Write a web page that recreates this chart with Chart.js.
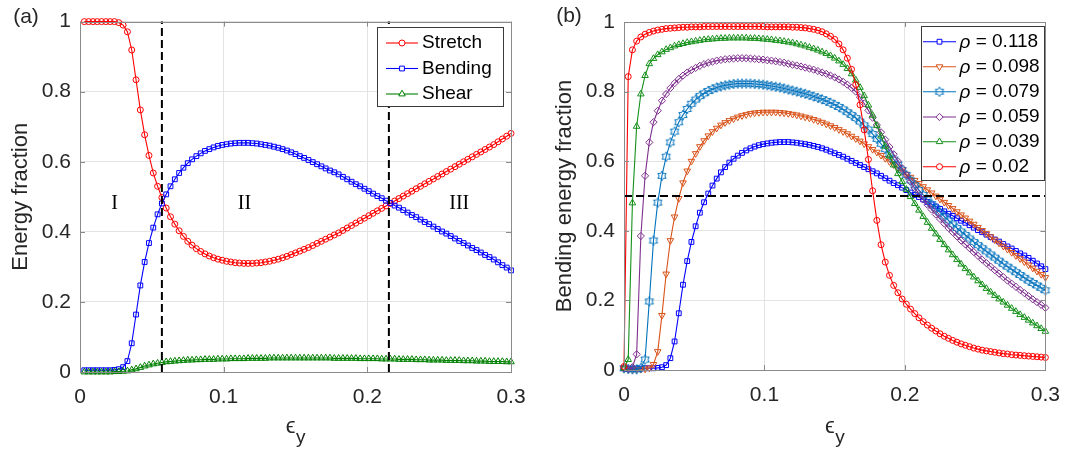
<!DOCTYPE html>
<html><head><meta charset="utf-8">
<script src="https://cdn.jsdelivr.net/npm/chart.js@4.4.1/dist/chart.umd.min.js"></script>
<style>
html,body{margin:0;padding:0;background:#fff;}
#wrap{position:relative;width:1073px;height:449px;overflow:hidden;background:#fff;}
canvas{position:absolute;top:0;}
#ca{left:0;}
#cb{left:540px;}
</style></head><body>
<div id="wrap"><canvas id="ca" width="540" height="449"></canvas><canvas id="cb" width="533" height="449"></canvas></div>
<script>
// ---------- data ----------
const xTickValues = [0, 0.1, 0.2, 0.3];
const xTickLabels = ['0', '0.1', '0.2', '0.3'];
const yTickValues = [0, 0.2, 0.4, 0.6, 0.8, 1];
const yTickLabels = ['0', '0.2', '0.4', '0.6', '0.8', '1'];

// strain sample grid (step 0.003)
const strainA = Array.from({length: 100}, (_, k) => Math.round((k + 1) * 3) / 1000);
const strainB = Array.from({length: 101}, (_, k) => Math.round(k * 3) / 1000);

// panel (a)
const seriesLabelsA = ['Stretch', 'Bending', 'Shear'];
const stretchA = [1.000,1.000,1.000,1.000,1.000,1.000,1.000,1.000,0.997,0.990,
0.971,0.919,0.834,0.748,0.677,0.618,0.568,0.530,0.498,0.468,
0.443,0.422,0.403,0.387,0.373,0.362,0.352,0.344,0.337,0.331,
0.326,0.322,0.319,0.316,0.314,0.312,0.311,0.310,0.310,0.310,
0.311,0.312,0.314,0.316,0.319,0.322,0.326,0.330,0.335,0.340,
0.345,0.350,0.355,0.361,0.367,0.373,0.379,0.385,0.391,0.397,
0.404,0.411,0.418,0.425,0.432,0.439,0.446,0.453,0.460,0.467,
0.474,0.481,0.488,0.495,0.502,0.509,0.516,0.523,0.530,0.537,
0.544,0.551,0.558,0.565,0.572,0.579,0.586,0.593,0.600,0.607,
0.614,0.621,0.628,0.635,0.642,0.649,0.657,0.665,0.673,0.681];
const bendingA = [0.005,0.005,0.005,0.005,0.005,0.005,0.005,0.006,0.008,0.014,
0.031,0.082,0.164,0.247,0.314,0.368,0.412,0.450,0.481,0.507,
0.530,0.550,0.568,0.583,0.596,0.607,0.616,0.624,0.631,0.636,
0.641,0.645,0.648,0.650,0.652,0.653,0.654,0.654,0.654,0.653,
0.652,0.650,0.648,0.646,0.643,0.640,0.636,0.632,0.627,0.622,
0.616,0.611,0.605,0.599,0.593,0.587,0.581,0.575,0.570,0.564,
0.557,0.550,0.543,0.536,0.530,0.523,0.516,0.509,0.502,0.496,
0.489,0.482,0.475,0.469,0.462,0.455,0.448,0.442,0.435,0.428,
0.422,0.415,0.408,0.401,0.395,0.388,0.381,0.374,0.368,0.361,
0.354,0.348,0.341,0.334,0.328,0.321,0.313,0.305,0.298,0.290];
const shearA = [0.000,0.000,0.000,0.000,0.000,0.000,0.000,0.001,0.001,0.002,
0.003,0.006,0.009,0.013,0.017,0.020,0.023,0.025,0.027,0.029,
0.030,0.031,0.032,0.033,0.034,0.034,0.035,0.035,0.036,0.036,
0.036,0.037,0.037,0.037,0.038,0.038,0.038,0.038,0.039,0.039,
0.039,0.039,0.039,0.040,0.040,0.040,0.040,0.040,0.040,0.040,
0.040,0.040,0.040,0.040,0.040,0.040,0.040,0.040,0.039,0.039,
0.039,0.039,0.039,0.039,0.038,0.038,0.038,0.038,0.038,0.037,
0.037,0.037,0.037,0.036,0.036,0.036,0.036,0.035,0.035,0.035,
0.034,0.034,0.034,0.034,0.033,0.033,0.033,0.033,0.032,0.032,
0.032,0.031,0.031,0.031,0.030,0.030,0.030,0.030,0.029,0.029];
const regionBounds = [0.057, 0.215];
const regionLabels = ['I', 'II', 'III'];
const regionLabelX = [0.024, 0.1145, 0.264];
const regionLabelY = 0.48;

// panel (b)
const rhoLabels = ['0.118', '0.098', '0.079', '0.059', '0.039', '0.02'];
const rho118 = [0.005,
0.004,0.004,0.004,0.004,0.005,0.005,0.005,0.006,0.008,0.014,
0.034,0.082,0.163,0.245,0.313,0.368,0.413,0.452,0.482,0.507,
0.530,0.550,0.568,0.583,0.596,0.607,0.616,0.624,0.631,0.637,
0.642,0.646,0.649,0.651,0.653,0.654,0.655,0.655,0.655,0.654,
0.653,0.651,0.649,0.647,0.644,0.641,0.637,0.633,0.628,0.623,
0.618,0.613,0.607,0.601,0.595,0.589,0.583,0.577,0.571,0.565,
0.558,0.551,0.544,0.537,0.531,0.524,0.517,0.510,0.503,0.497,
0.490,0.483,0.476,0.470,0.463,0.456,0.449,0.443,0.436,0.429,
0.423,0.416,0.409,0.402,0.396,0.389,0.382,0.375,0.369,0.362,
0.355,0.349,0.342,0.335,0.329,0.322,0.314,0.306,0.298,0.290];
const rho098 = [0.004,
0.002,0.001,0.001,0.002,0.003,0.006,0.016,0.053,0.157,0.276,
0.372,0.440,0.493,0.538,0.572,0.600,0.622,0.642,0.659,0.673,
0.685,0.695,0.704,0.711,0.717,0.722,0.727,0.731,0.734,0.737,
0.739,0.740,0.741,0.741,0.741,0.741,0.740,0.739,0.737,0.735,
0.733,0.730,0.727,0.724,0.720,0.716,0.712,0.707,0.702,0.697,
0.691,0.685,0.679,0.672,0.665,0.658,0.650,0.642,0.634,0.626,
0.617,0.608,0.599,0.590,0.581,0.572,0.563,0.554,0.545,0.536,
0.527,0.518,0.509,0.500,0.491,0.482,0.473,0.464,0.455,0.446,
0.437,0.428,0.419,0.410,0.401,0.392,0.383,0.374,0.365,0.356,
0.347,0.338,0.329,0.320,0.311,0.302,0.293,0.284,0.275,0.266];
const rho079 = [0.005,
0.003,0.002,0.002,0.006,0.030,0.197,0.372,0.481,0.558,0.613,
0.654,0.685,0.712,0.733,0.750,0.765,0.777,0.787,0.795,0.802,
0.807,0.812,0.815,0.818,0.820,0.822,0.823,0.823,0.823,0.823,
0.822,0.821,0.820,0.818,0.816,0.814,0.812,0.809,0.806,0.803,
0.800,0.797,0.794,0.790,0.786,0.782,0.778,0.773,0.768,0.762,
0.756,0.749,0.741,0.733,0.724,0.714,0.703,0.691,0.678,0.664,
0.650,0.635,0.620,0.605,0.590,0.575,0.560,0.545,0.531,0.517,
0.503,0.490,0.477,0.465,0.453,0.441,0.430,0.419,0.408,0.398,
0.388,0.378,0.368,0.359,0.350,0.341,0.332,0.323,0.314,0.305,
0.297,0.289,0.281,0.273,0.265,0.257,0.250,0.243,0.236,0.229];
const rho059 = [0.005,
0.003,0.008,0.045,0.385,0.558,0.654,0.712,0.745,0.774,0.793,
0.810,0.824,0.836,0.846,0.855,0.862,0.868,0.874,0.879,0.883,
0.886,0.889,0.891,0.893,0.894,0.895,0.896,0.896,0.896,0.895,
0.894,0.893,0.892,0.890,0.889,0.887,0.885,0.883,0.880,0.877,
0.875,0.872,0.869,0.866,0.863,0.859,0.855,0.851,0.846,0.841,
0.835,0.828,0.820,0.811,0.800,0.784,0.766,0.746,0.725,0.704,
0.683,0.662,0.641,0.620,0.600,0.580,0.560,0.541,0.523,0.506,
0.490,0.475,0.461,0.447,0.434,0.421,0.408,0.396,0.384,0.372,
0.361,0.350,0.339,0.328,0.317,0.307,0.297,0.287,0.277,0.267,
0.257,0.248,0.239,0.230,0.221,0.212,0.203,0.195,0.187,0.179];
const rho039 = [0.005,
0.030,0.480,0.700,0.793,0.846,0.880,0.895,0.906,0.914,0.921,
0.926,0.931,0.935,0.938,0.941,0.943,0.945,0.947,0.949,0.950,
0.951,0.952,0.953,0.953,0.954,0.954,0.954,0.954,0.954,0.953,
0.953,0.952,0.951,0.950,0.949,0.947,0.946,0.944,0.942,0.940,
0.937,0.934,0.931,0.927,0.923,0.919,0.914,0.909,0.903,0.896,
0.888,0.878,0.866,0.851,0.833,0.812,0.788,0.761,0.732,0.702,
0.672,0.643,0.615,0.589,0.564,0.541,0.519,0.498,0.478,0.459,
0.441,0.424,0.407,0.391,0.375,0.360,0.345,0.331,0.317,0.304,
0.291,0.279,0.267,0.256,0.245,0.234,0.224,0.214,0.204,0.195,
0.186,0.177,0.168,0.159,0.151,0.143,0.135,0.127,0.119,0.111];
const rho02 = [0.010,
0.843,0.920,0.945,0.957,0.965,0.970,0.974,0.977,0.979,0.981,
0.982,0.983,0.984,0.985,0.985,0.986,0.986,0.986,0.987,0.987,
0.987,0.987,0.987,0.987,0.987,0.987,0.987,0.987,0.987,0.987,
0.987,0.987,0.987,0.986,0.986,0.986,0.986,0.986,0.986,0.985,
0.985,0.984,0.983,0.981,0.979,0.976,0.972,0.966,0.959,0.950,
0.937,0.920,0.896,0.864,0.820,0.762,0.690,0.605,0.515,0.430,
0.360,0.310,0.272,0.243,0.222,0.204,0.189,0.175,0.162,0.150,
0.139,0.129,0.120,0.112,0.104,0.097,0.091,0.085,0.080,0.075,
0.071,0.067,0.063,0.060,0.057,0.055,0.053,0.051,0.049,0.047,
0.046,0.044,0.043,0.042,0.041,0.040,0.039,0.038,0.037,0.036];
const bendingThreshold = 0.5;

// ---------- style ----------
const SANS = '"Liberation Sans", Arial, Helvetica, sans-serif';
const SERIF = '"Liberation Serif", "Times New Roman", serif';
const GRID = '#e3e3e3';
const AXIS = '#8a8a8a';
const TXT = '#262626';

function hexagram(color) {
  const c = document.createElement('canvas');
  c.width = 12; c.height = 12;
  const g = c.getContext('2d');
  g.strokeStyle = color; g.lineWidth = 1;
  const R = 4.8, r = R / Math.sqrt(3);
  g.beginPath();
  for (let k = 0; k < 12; k++) {
    const a = -Math.PI / 2 + k * Math.PI / 6;
    const rr = k % 2 === 0 ? R : r;
    const px = 6 + rr * Math.cos(a), py = 6 + rr * Math.sin(a);
    k === 0 ? g.moveTo(px, py) : g.lineTo(px, py);
  }
  g.closePath(); g.stroke();
  return c;
}

function series(xs, ys, color, style, radius, rotation, order) {
  return {
    data: xs.map((x, k) => ({x: x, y: ys[k]})),
    showLine: true, tension: 0, borderColor: color, borderWidth: 1.1,
    pointStyle: style, pointRadius: radius, pointRotation: rotation || 0,
    pointBorderColor: color, pointBackgroundColor: 'rgba(0,0,0,0)', pointBorderWidth: 1,
    clip: false, order: order
  };
}
function dashed(points, order) {
  return {data: points, showLine: true, borderColor: '#000', borderWidth: 2, borderDash: [8, 4],
    pointRadius: 0, tension: 0, clip: false, order: order};
}

const framePlugin = {
  id: 'frame',
  afterDatasetsDraw(chart) {
    const {ctx, chartArea: a, scales} = chart;
    ctx.save();
    ctx.strokeStyle = AXIS; ctx.lineWidth = 1;
    ctx.strokeRect(Math.round(a.left) + 0.5, Math.round(a.top) + 0.5, Math.round(a.right - a.left), Math.round(a.bottom - a.top));
    ctx.beginPath();
    xTickValues.forEach(v => {
      const p = Math.round(scales.x.getPixelForValue(v)) + 0.5;
      ctx.moveTo(p, a.bottom); ctx.lineTo(p, a.bottom - 5);
      ctx.moveTo(p, a.top); ctx.lineTo(p, a.top + 5);
    });
    yTickValues.forEach(v => {
      const p = Math.round(scales.y.getPixelForValue(v)) + 0.5;
      ctx.moveTo(a.left, p); ctx.lineTo(a.left + 5, p);
      ctx.moveTo(a.right, p); ctx.lineTo(a.right - 5, p);
    });
    ctx.stroke();
    ctx.restore();
  }
};

function drawXTitle(chart) {
  const {ctx, chartArea: a} = chart;
  const cx = (a.left + a.right) / 2;
  ctx.save();
  ctx.fillStyle = TXT; ctx.textBaseline = 'alphabetic';
  ctx.font = '22px ' + SANS; ctx.textAlign = 'right';
  ctx.fillText('\u03F5', cx, 433);
  ctx.font = '19px ' + SANS; ctx.textAlign = 'left';
  ctx.fillText('y', cx + 0.5, 443);
  ctx.restore();
}
function drawLegend(chart, L) {
  const ctx = chart.ctx;
  ctx.save();
  ctx.fillStyle = '#fff'; ctx.strokeStyle = '#3a3a3a'; ctx.lineWidth = 1;
  ctx.fillRect(L.box[0], L.box[1], L.box[2] - L.box[0], L.box[3] - L.box[1]);
  ctx.strokeRect(L.box[0] + 0.5, L.box[1] + 0.5, L.box[2] - L.box[0], L.box[3] - L.box[1]);
  L.items.forEach((it, k) => {
    const y = L.rows[k];
    ctx.strokeStyle = it.color; ctx.lineWidth = 1.1;
    ctx.beginPath(); ctx.moveTo(L.line[0], y); ctx.lineTo(L.line[1], y); ctx.stroke();
    ctx.fillStyle = '#fff'; ctx.strokeStyle = it.color; ctx.lineWidth = 1;
    Chart.helpers.drawPoint(ctx, {pointStyle: it.style, radius: it.radius, rotation: it.rotation || 0, borderWidth: 1}, L.marker, y);
    ctx.fillStyle = '#000'; ctx.textBaseline = 'middle'; ctx.textAlign = 'left';
    if (it.rho) {
      ctx.font = 'italic 19px ' + SANS;
      ctx.fillText('\u03C1', L.text, y + 1);
      const w = ctx.measureText('\u03C1').width;
      ctx.font = '19px ' + SANS;
      ctx.fillText(' = ' + it.label, L.text + w, y);
    } else {
      ctx.font = '19px ' + SANS;
      ctx.fillText(it.label, L.text, y);
    }
  });
  ctx.restore();
}

function scaleOpts(axisSize, isX, pad, title) {
  const o = {
    type: 'linear', min: 0, max: isX ? 0.3 : 1,
    afterFit(s) { if (isX) s.height = axisSize; else s.width = axisSize; },
    afterBuildTicks(s) { s.ticks = (isX ? xTickValues : yTickValues).map(v => ({value: v})); },
    ticks: {callback: (v, i) => (isX ? xTickLabels : yTickLabels)[i], font: {size: 21, family: SANS},
      color: TXT, padding: pad, maxRotation: 0, autoSkip: false},
    grid: {color: GRID, drawTicks: false, lineWidth: 1},
    border: {display: false}
  };
  if (title) o.title = title;
  return o;
}

function makeChart(canvas, cfg) {
  return new Chart(canvas, {
    type: 'scatter',
    data: {datasets: cfg.datasets},
    options: {
      responsive: false, animation: false, devicePixelRatio: 1, events: [],
      layout: {padding: {left: 0, top: cfg.top, right: cfg.right, bottom: 0}},
      plugins: {legend: {display: false}, tooltip: {enabled: false}},
      scales: {
        x: scaleOpts(cfg.xAxisH, true, 13),
        y: scaleOpts(cfg.yAxisW, false, 9, {display: true, text: cfg.yTitle, color: TXT,
          font: {size: 22, family: SANS}, padding: {top: cfg.yTitlePad, bottom: 0}})
      }
    },
    plugins: [framePlugin, {id: 'overlay', afterDraw(chart) { cfg.overlay(chart); }}]
  });
}

// ---------- panel (a) ----------
const colA = ['#ff0000', '#0000ff', '#008000'];
const styleA = [['circle', 3, 0], ['rect', 3.4, 0], ['triangle', 3.8, 0]];
const dataA = [stretchA, bendingA, shearA];
const dsA = dataA.map((d, k) => series(strainA, d, colA[k], styleA[k][0], styleA[k][1], styleA[k][2], 3 - k));
regionBounds.forEach(b => dsA.push(dashed([{x: b, y: 0}, {x: b, y: 1}], 0)));

makeChart(document.getElementById('ca'), {
  datasets: dsA, top: 21, right: 29, xAxisH: 77, yAxisW: 80, yTitle: 'Energy fraction', yTitlePad: 8,
  overlay(chart) {
    const ctx = chart.ctx, sx = chart.scales.x, sy = chart.scales.y;
    ctx.save();
    ctx.fillStyle = '#000'; ctx.font = '20px ' + SERIF; ctx.textAlign = 'center'; ctx.textBaseline = 'middle';
    regionLabels.forEach((t, k) => ctx.fillText(t, sx.getPixelForValue(regionLabelX[k]), sy.getPixelForValue(regionLabelY)));
    ctx.font = '21px ' + SANS; ctx.fillStyle = TXT;
    ctx.fillText('(a)', 26, 17);
    ctx.restore();
    drawXTitle(chart);
    drawLegend(chart, {box: [377, 27, 503, 106], rows: [43, 68.5, 94], line: [386, 418], marker: 402, text: 422,
      items: seriesLabelsA.map((l, k) => ({label: l, color: colA[k], style: styleA[k][0], radius: styleA[k][1], rotation: styleA[k][2]}))});
  }
});

// ---------- panel (b) ----------
const colB = ['#0000ff', '#d95319', '#0072bd', '#7e2f8e', '#15901a', '#ff0000'];
const styleB = [['rect', 3.4, 0], ['triangle', 3.8, 180], [hexagram('#0072bd'), 4, 0], ['rectRot', 3.6, 0], ['triangle', 3.8, 0], ['circle', 3, 0]];
const dataB = [rho118, rho098, rho079, rho059, rho039, rho02];
const dsB = dataB.map((d, k) => series(strainB, d, colB[k], styleB[k][0], styleB[k][1], styleB[k][2], 6 - k));
dsB.push(dashed([{x: 0, y: bendingThreshold}, {x: 0.3, y: bendingThreshold}], 0));

makeChart(document.getElementById('cb'), {
  datasets: dsB, top: 22, right: 18, xAxisH: 79, yAxisW: 84, yTitle: 'Bending energy fraction', yTitlePad: 12,
  overlay(chart) {
    const ctx = chart.ctx;
    ctx.save();
    ctx.font = '21px ' + SANS; ctx.fillStyle = TXT; ctx.textAlign = 'center'; ctx.textBaseline = 'middle';
    ctx.fillText('(b)', 29, 16);
    ctx.restore();
    drawXTitle(chart);
    drawLegend(chart, {box: [381, 26, 504, 180], rows: [41.7, 66.7, 91.7, 117, 141.7, 166.7], line: [383, 416], marker: 399.5, text: 419.5,
      items: rhoLabels.map((l, k) => ({label: l, rho: true, color: colB[k], style: styleB[k][0], radius: styleB[k][1], rotation: styleB[k][2]}))});
  }
});
</script>
</body></html>
